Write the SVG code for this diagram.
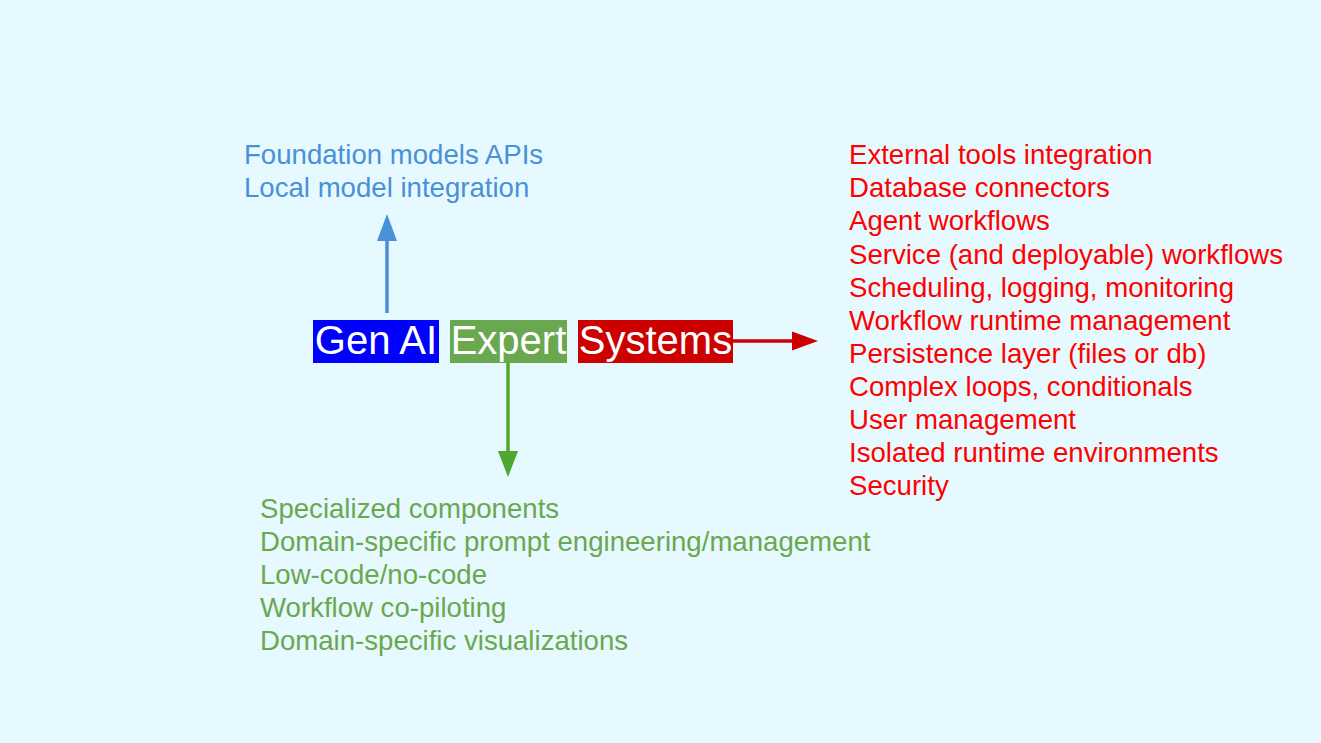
<svg xmlns="http://www.w3.org/2000/svg" width="1321" height="743" viewBox="0 0 1321 743">
<defs>
<style>
text{font-family:"Liberation Sans",Arial,sans-serif}
.box{font-size:40px;fill:#ffffff;text-anchor:middle}
.list{font-size:27.6px}
.blue{fill:#4a90d9}
.green{fill:#6aa84f}
.red{fill:#ff0000}
</style>
</defs>
<rect width="1321" height="743" fill="#e6f9fe"/>
<g id="connectors">
<line x1="387" y1="313" x2="387" y2="240" stroke="#4a90d9" stroke-width="3.5"/>
<polygon points="377,241 397,241 387,214" fill="#4a90d9"/>
<line x1="508" y1="362" x2="508" y2="452" stroke="#4fa82e" stroke-width="3.5"/>
<polygon points="498,451 518,451 508,477" fill="#4fa82e"/>
<line x1="733" y1="341" x2="793" y2="341" stroke="#cc0000" stroke-width="3.5"/>
<polygon points="792,331.5 792,350.5 818,341" fill="#cc0000"/>
</g>
<g id="genai">
<rect x="313" y="320" width="126" height="43" fill="#0000ff"/>
<text class="box" x="376" y="354">Gen AI</text>
</g>
<g id="expert">
<rect x="450" y="320" width="117" height="43" fill="#6aa84f"/>
<text class="box" x="508.5" y="354">Expert</text>
</g>
<g id="systems">
<rect x="578" y="320" width="155" height="43" fill="#cc0000"/>
<text class="box" x="655.5" y="354">Systems</text>
</g>
<g id="genai-list">
<text class="list blue" x="244" y="164">Foundation models APIs</text>
<text class="list blue" x="244" y="197">Local model integration</text>
</g>
<g id="systems-list">
<text class="list red" x="849" y="164">External tools integration</text>
<text class="list red" x="849" y="197">Database connectors</text>
<text class="list red" x="849" y="230">Agent workflows</text>
<text class="list red" x="849" y="263.5">Service (and deployable) workflows</text>
<text class="list red" x="849" y="296.5">Scheduling, logging, monitoring</text>
<text class="list red" x="849" y="329.5">Workflow runtime management</text>
<text class="list red" x="849" y="362.5">Persistence layer (files or db)</text>
<text class="list red" x="849" y="396">Complex loops, conditionals</text>
<text class="list red" x="849" y="429">User management</text>
<text class="list red" x="849" y="462">Isolated runtime environments</text>
<text class="list red" x="849" y="495">Security</text>
</g>
<g id="expert-list">
<text class="list green" x="260" y="517.5">Specialized components</text>
<text class="list green" x="260" y="550.5">Domain-specific prompt engineering/management</text>
<text class="list green" x="260" y="583.5">Low-code/no-code</text>
<text class="list green" x="260" y="617">Workflow co-piloting</text>
<text class="list green" x="260" y="650">Domain-specific visualizations</text>
</g>
</svg>
